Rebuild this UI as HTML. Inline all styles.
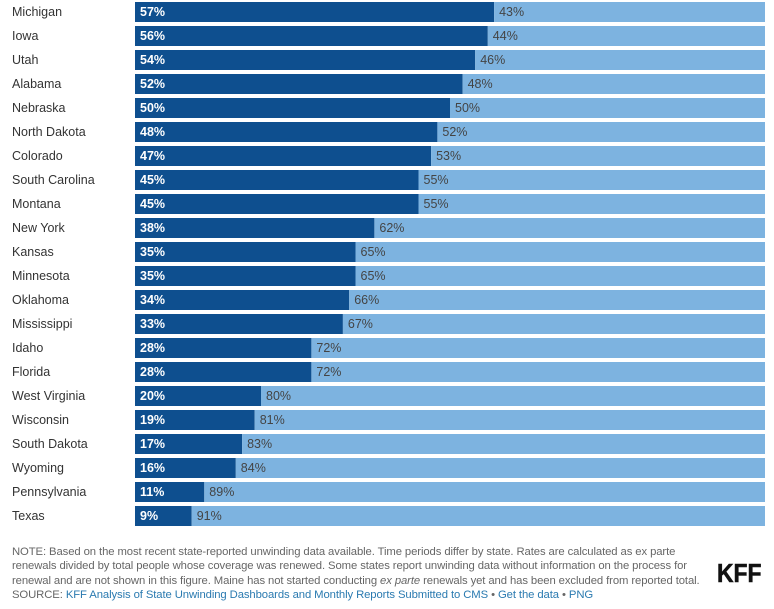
<!DOCTYPE html>
<html><head><meta charset="utf-8"><style>
body{margin:0;width:774px;height:609px;background:#fff;font-family:"Liberation Sans",sans-serif;overflow:hidden;position:relative}
.note{position:absolute;left:12px;top:545px;font-size:11.3px;line-height:14.3px;color:#666;white-space:nowrap;letter-spacing:-0.1px}
.note a{color:#2a7ab0;text-decoration:none}
.kff{position:absolute;left:717px;top:558px;font-size:26px;font-weight:bold;color:#111;transform:scaleX(0.88);transform-origin:left top;-webkit-text-stroke:0.6px #111}
</style></head><body>
<svg id="chart" width="774" height="535" style="position:absolute;left:0;top:0"></svg>
<div class="note">NOTE: Based on the most recent state-reported unwinding data available. Time periods differ by state. Rates are calculated as ex parte<br>renewals divided by total people whose coverage was renewed. Some states report unwinding data without information on the process for<br>renewal and are not shown in this figure. Maine has not started conducting <i>ex parte</i> renewals yet and has been excluded from reported total.<br>SOURCE: <a>KFF Analysis of State Unwinding Dashboards and Monthly Reports Submitted to CMS</a> • <a>Get the data</a> • <a>PNG</a></div>
<div class="kff">KFF</div>
<script>
const states=["Michigan","Iowa","Utah","Alabama","Nebraska","North Dakota","Colorado","South Carolina","Montana","New York","Kansas","Minnesota","Oklahoma","Mississippi","Idaho","Florida","West Virginia","Wisconsin","South Dakota","Wyoming","Pennsylvania","Texas"];
const exParte=[57,56,54,52,50,48,47,45,45,38,35,35,34,33,28,28,20,19,17,16,11,9];
const other=[43,44,46,48,50,52,53,55,55,62,65,65,66,67,72,72,80,81,83,84,89,91];
const NS="http://www.w3.org/2000/svg";
const svg=document.getElementById('chart');
const x0=135,W=630;
const xs=v=>v/100*W;
const yRow=i=>2+i*24;
function mk(t,a){const e=document.createElementNS(NS,t);for(const k in a)e.setAttribute(k,a[k]);svg.appendChild(e);return e;}
states.forEach((s,i)=>{
  const y=yRow(i);
  const lab=mk('text',{x:12,y:y+14,'font-size':12.5,fill:'#333'});lab.textContent=s;
  
  
  const wd=xs(exParte[i]);
  const b1=mk('rect',{x:x0,y:y,width:wd,height:20,fill:'#0e4f8f'});
  
  
  const b2=mk('rect',{x:x0+wd,y:y,width:xs(other[i]),height:20,fill:'#7db3e0'});
  
  
  const t1=mk('text',{x:x0+5,y:y+14,'font-size':12.5,'font-weight':'bold',fill:'#fff'});t1.textContent=exParte[i]+'%';
  
  
  const t2=mk('text',{x:x0+wd+5,y:y+14,'font-size':12.5,fill:'#444'});t2.textContent=other[i]+'%';
  
  
});
</script>
</body></html>
